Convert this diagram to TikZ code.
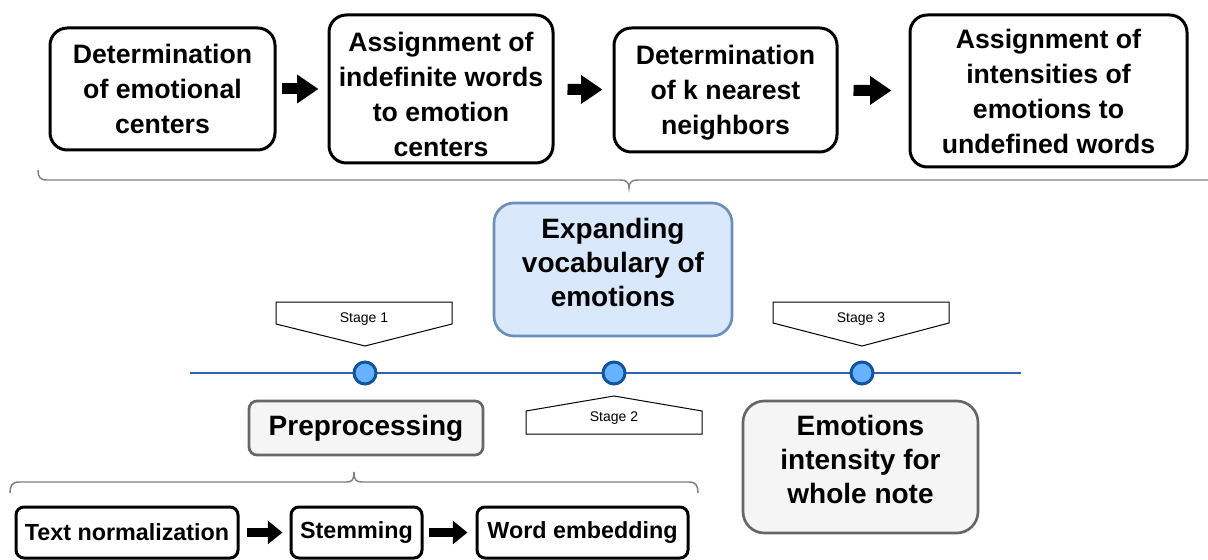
\documentclass[tikz,border=0pt]{standalone}
\usepackage{fontspec}
\setmainfont{Liberation Sans}
\usetikzlibrary{arrows.meta}

\definecolor{vocabfill}{HTML}{DAE8FC}
\definecolor{vocabdraw}{HTML}{6C8EBF}
\definecolor{notefill}{HTML}{F5F5F5}
\definecolor{notedraw}{HTML}{666666}
\definecolor{dotfill}{HTML}{66B2FF}
\definecolor{dotdraw}{HTML}{10539E}
\definecolor{lineblue}{HTML}{2C67B0}
\definecolor{bracegray}{HTML}{808080}

\begin{document}
\begin{tikzpicture}[x=0.75pt,y=-0.75pt,
    stepbox/.style={draw, line width=2.25pt, rounded corners=13pt, align=center, inner sep=1pt,
      font=\bfseries\fontsize{20}{26.25}\selectfont},
    prepbox/.style={draw, line width=2.25pt, rounded corners=6pt, inner sep=1pt, minimum height=38.25pt,
      font=\bfseries\fontsize{17.5}{21}\selectfont},
    stagebox/.style={draw, line width=2pt, align=center, font=\bfseries\fontsize{21}{25.5}\selectfont},
    bigarrow/.style={line width=8.25pt, -{Triangle[width=20.5pt,length=16pt]}},
    smallarrow/.style={line width=6.75pt, -{Triangle[width=17pt,length=11pt]}},
    bracepen/.style={draw=bracegray, line width=1.1pt},
    callout/.style={draw, line width=0.75pt, fill=white},
    stagelabel/.style={font=\fontsize{10.5}{12}\selectfont},
    dot/.style={circle, draw=dotdraw, fill=dotfill, line width=2.25pt, minimum size=16.5pt, inner sep=0pt}
  ]
    \useasboundingbox (0,0) rectangle (1208,560);

    % vocabulary expansion steps
    \node[stepbox, minimum width=168.75pt, minimum height=91.5pt] (centers) at (162.5,89) {Determination\\of emotional\\centers};
    \node[stepbox, minimum width=168pt, minimum height=111pt] (assign) at (441,89) {\rule{0pt}{22pt}Assignment of\\indefinite words\\to emotion\\centers};
    \node[stepbox, minimum width=167.25pt, minimum height=93pt, text depth=-0.3pt] (knn) at (725.5,90) {Determination\\of k nearest\\neighbors};
    \node[stepbox, minimum width=207.75pt, minimum height=114pt] (intens) at (1048.5,91) {Assignment of\\intensities of\\emotions to\\undefined words};

    \draw[bigarrow, shorten <=3.75pt, shorten >=6.75pt] (centers) -- (assign);
    \draw[bigarrow, shorten <=9.75pt, shorten >=7.5pt] (assign) -- (knn);
    \draw[bigarrow, shorten <=11.25pt, shorten >=12.75pt] (knn) -- (intens);

    % brace over the steps
    \draw[bracepen] (38,170) .. controls (38,177) and (40,180) .. (47,180) -- (620,180)
      .. controls (626,180) and (629,182) .. (629,188)
      .. controls (629,182) and (632,180) .. (638,180) -- (1208,180);

    % stages
    \node[stagebox, draw=vocabdraw, fill=vocabfill, rounded corners=15pt, minimum width=178.5pt, minimum height=99.75pt, text depth=10.5pt] (vocab) at (613,269.5) {Expanding\\vocabulary of\\emotions};
    \node[stagebox, draw=notedraw, fill=notefill, rounded corners=6pt, minimum width=175.5pt, minimum height=40.5pt] (prep) at (366,428) {Preprocessing};
    \node[stagebox, draw=notedraw, fill=notefill, rounded corners=16pt, minimum width=176.25pt, minimum height=99pt, text depth=12pt] (whole) at (860.5,467) {Emotions\\intensity for\\whole note};

    % timeline
    \coordinate (T1) at (190,373);
    \coordinate (T2) at (1021,373);
    \draw[lineblue, line width=1.1pt] (T1) -- (T2);
    \node[dot] (d1) at (365,373) {};
    \node[dot] (d2) at (614,373) {};
    \node[dot] (d3) at (862,373) {};

    \draw[callout] (276,302) -- (452,302) -- (452,324) -- (365,346) -- (276,324) -- cycle; % stage 1
    \draw[callout] (526,434) -- (702,434) -- (702,411) -- (614,396) -- (526,411) -- cycle; % stage 2
    \draw[callout] (773,302) -- (949,302) -- (949,323) -- (862,346) -- (773,323) -- cycle; % stage 3
    \node[stagelabel] (s1) at (364,319) {Stage 1};
    \node[stagelabel] (s2) at (614,418) {Stage 2};
    \node[stagelabel] (s3) at (861,319) {Stage 3};

    % brace under preprocessing
    \draw[bracepen] (10,493) .. controls (10,486) and (12,482) .. (19,482) -- (346,482)
      .. controls (352,482) and (354,480) .. (354,472)
      .. controls (354,480) and (356,482) .. (362,482) -- (689,482)
      .. controls (696,482) and (698,486) .. (698,493);

    % preprocessing steps
    \node[prepbox, minimum width=166.5pt] (norm) at (127,532.5) {Text normalization};
    \node[prepbox, minimum width=98.25pt] (stem) at (356.5,532.5) {Stemming};
    \node[prepbox, minimum width=158.25pt] (embed) at (582.5,532.5) {Word embedding};

    \draw[smallarrow, shorten <=5.25pt, shorten >=5.25pt] (norm) -- (stem);
    \draw[smallarrow, shorten <=3.75pt, shorten >=6pt] (stem) -- (embed);
\end{tikzpicture}
\end{document}
